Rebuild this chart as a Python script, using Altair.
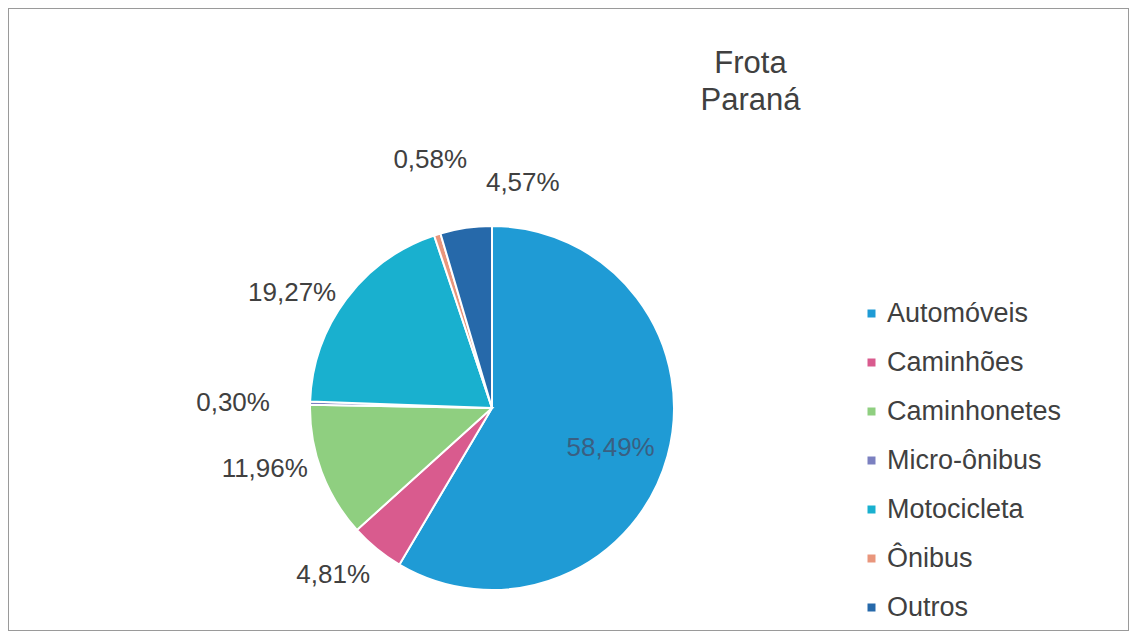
import altair as alt
import pandas as pd

CATEGORIES = ["Automóveis", "Caminhões", "Caminhonetes", "Micro-ônibus",
              "Motocicleta", "Ônibus", "Outros"]
VALUES = [58.49, 4.81, 11.96, 0.30, 19.27, 0.58, 4.57]
LABELS = ["58,49%", "4,81%", "11,96%", "0,30%", "19,27%", "0,58%", "4,57%"]
COLORS = ["#1f9bd5", "#d95b8e", "#8fcf80", "#7b80c0", "#19b0cf", "#e9967c", "#2669aa"]
TITLE = ["Frota", "Paraná"]

TOTAL = sum(VALUES)
df = pd.DataFrame({"cat": CATEGORIES, "value": VALUES, "label": LABELS,
                   "idx": list(range(len(CATEGORIES)))})

FONT = "Liberation Sans"
CX, CY, R = 484, 400, 182

base = alt.Chart(df)

pie = base.mark_arc(outerRadius=R, stroke="white", strokeWidth=2).encode(
    theta=alt.Theta("value:Q", stack=True),
    color=alt.Color(
        "cat:N",
        scale=alt.Scale(domain=CATEGORIES, range=COLORS),
        sort=CATEGORIES,
        legend=alt.Legend(
            title=None, orient="none", legendX=850, legendY=292,
            symbolType="square", symbolSize=64, symbolStrokeWidth=0,
            labelFont=FONT, labelFontSize=27, labelColor="#404040",
            rowPadding=21, labelOffset=2, labelLimit=0,
        ),
    ),
    order=alt.Order("idx:Q"),
    x=alt.value(CX), y=alt.value(CY),
)

# label style: radius, dx, dy, color
LABEL_STYLE = {
    "Automóveis": (123, 0, 8, "#3a5f82"),
    "Caminhões": (232, -12, -13, "#404040"),
    "Caminhonetes": (232, -10, -20, "#404040"),
    "Micro-ônibus": (232, -27, 1, "#404040"),
    "Motocicleta": (232, -14, 24, "#404040"),
    "Ônibus": (232, 8, -27, "#404040"),
    "Outros": (232, 64, 5, "#404040"),
}

labelled = base.transform_window(
    cum="sum(value)", sort=[alt.SortField("idx")], frame=[None, 0]
).transform_calculate(
    ang=f"(datum.cum - datum.value / 2) / {TOTAL} * 2 * PI"
)

layers = [pie]
for cat, (rad, dx, dy, col) in LABEL_STYLE.items():
    layers.append(
        labelled.transform_filter(alt.datum.cat == cat).mark_text(
            font=FONT, fontSize=26, color=col, dx=dx, dy=dy,
            align="center", baseline="middle",
        ).encode(
            theta=alt.Theta("ang:Q", scale=None),
            radius=alt.value(rad),
            text="label:N",
            x=alt.value(CX), y=alt.value(CY),
        )
    )

chart = alt.layer(*layers).properties(
    width=1121, height=623,
    autosize=alt.AutoSizeParams(type="none"),
    padding=0,
    background="white",
    title=alt.TitleParams(
        TITLE, anchor="middle", dx=182, dy=109, offset=0,
        font=FONT, fontSize=31, fontWeight="normal", color="#404040",
        lineHeight=37,
    ),
).configure_view(stroke="#9a9a9a", strokeWidth=2)

chart.save("out.html", embed_options={"renderer": "svg", "actions": False})
